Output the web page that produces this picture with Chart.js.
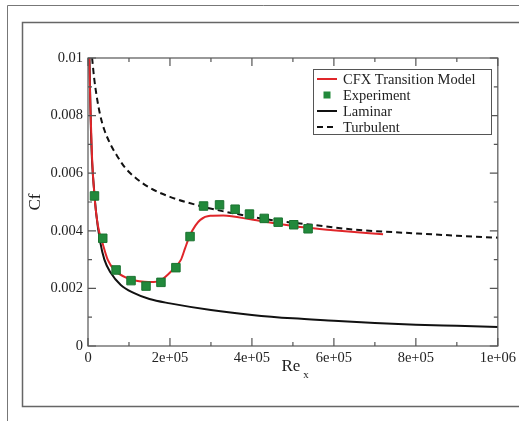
<!DOCTYPE html>
<html>
<head>
<meta charset="utf-8">
<script src="https://cdn.jsdelivr.net/npm/chart.js@4.4.1/dist/chart.umd.min.js"></script>
<style>
  html, body { margin: 0; padding: 0; background: #fff; }
  canvas { display: block; }
</style>
</head>
<body>
<canvas id="chart" width="519" height="421"></canvas>
<script>
// values
const cfxRe = [3000, 6000, 10000, 15800, 24000, 36000, 48000, 64500, 97000, 137500, 160000, 178000, 202000, 227000, 237000, 249000, 262000, 274000, 298000, 330000, 403000, 525000, 598000, 720000]
const cfxCf = [0.0100, 0.0082, 0.0065, 0.0052, 0.0042, 0.00355, 0.00300, 0.00264, 0.00235, 0.00223, 0.00222, 0.00229, 0.00258, 0.00300, 0.00340, 0.00385, 0.00418, 0.00438, 0.00452, 0.00453, 0.00438, 0.00412, 0.00402, 0.00388]

const expRe = [15800, 36000, 68500, 105000, 141600, 178000, 214500, 249000, 282000, 321000, 359000, 394000, 430000, 464000, 502000, 537000]
const expCf = [0.00521, 0.00374, 0.00264, 0.00227, 0.00208, 0.00221, 0.00272, 0.00380, 0.00486, 0.00490, 0.00475, 0.00458, 0.00443, 0.00430, 0.00421, 0.00407]

const lamRe = [3600, 5000, 7000, 10000, 15000, 20000, 30000, 40000, 55000, 80000, 110000, 150000, 200000, 300000, 400000, 500000, 600000, 700000, 800000, 900000, 1000000]
const lamCf = [0.0100, 0.0089, 0.0076, 0.0064, 0.0054, 0.0046, 0.0036, 0.0030, 0.00255, 0.00212, 0.00185, 0.00163, 0.00148, 0.00125, 0.00108, 0.00096, 0.00088, 0.00080, 0.00074, 0.00070, 0.00066]

const turbRe = [10000, 15000, 22000, 30000, 40000, 55000, 71000, 90000, 111000, 150000, 200000, 280000, 350000, 450000, 540000, 650000, 800000, 900000, 1000000]
const turbCf = [0.0100, 0.0093, 0.0086, 0.0080, 0.0075, 0.0070, 0.0066, 0.0062, 0.0059, 0.0055, 0.00518, 0.00484, 0.00462, 0.00437, 0.00422, 0.00404, 0.00391, 0.00383, 0.00376]

const xTickLabels = ['0', '2e+05', '4e+05', '6e+05', '8e+05', '1e+06']
const yTickLabels = ['0', '0.002', '0.004', '0.006', '0.008', '0.01']

const serif = "'Liberation Serif', 'Times New Roman', serif"

function toPoints(xs, ys) {
    return xs.map((x, i) => ({ x: x, y: ys[i] }))
}

// page frames behind the plot
const framePlugin = {
    id: 'frames',
    beforeDraw(chart) {
        const ctx = chart.ctx
        ctx.save()
        ctx.fillStyle = '#fff'
        ctx.fillRect(0, 0, chart.width, chart.height)
        ctx.strokeStyle = '#777'
        ctx.lineWidth = 1
        ctx.beginPath()
        ctx.moveTo(7.5, chart.height)
        ctx.lineTo(7.5, 5.5)
        ctx.lineTo(chart.width, 5.5)
        ctx.stroke()
        ctx.strokeStyle = '#666'
        ctx.lineWidth = 1.5
        ctx.beginPath()
        ctx.moveTo(chart.width + 2, 22.5)
        ctx.lineTo(22.5, 22.5)
        ctx.lineTo(22.5, 406.5)
        ctx.lineTo(chart.width + 2, 406.5)
        ctx.stroke()
        ctx.restore()
    }
}

// box round the plot, inward ticks on all four sides, axis titles
const axesPlugin = {
    id: 'axesBox',
    afterDatasetsDraw(chart) {
        const ctx = chart.ctx
        const a = chart.chartArea
        const xs = chart.scales.x
        const ys = chart.scales.y
        ctx.save()
        ctx.strokeStyle = '#555'
        ctx.lineWidth = 1.2
        ctx.strokeRect(a.left, a.top, a.right - a.left, a.bottom - a.top)
        ctx.beginPath()
        xs.ticks.forEach((t, i) => {
            const px = xs.getPixelForValue(t.value)
            const len = i % 2 === 0 ? 8 : 4
            ctx.moveTo(px, a.bottom); ctx.lineTo(px, a.bottom - len)
            ctx.moveTo(px, a.top); ctx.lineTo(px, a.top + len)
        })
        ys.ticks.forEach((t, i) => {
            const py = ys.getPixelForValue(t.value)
            const len = i % 2 === 0 ? 8 : 4
            ctx.moveTo(a.left, py); ctx.lineTo(a.left + len, py)
            ctx.moveTo(a.right, py); ctx.lineTo(a.right - len, py)
        })
        ctx.stroke()

        ctx.fillStyle = '#222'
        ctx.font = '17px ' + serif
        ctx.textAlign = 'center'
        ctx.textBaseline = 'middle'
        const midX = (a.left + a.right) / 2
        ctx.fillText('Re', midX - 2, 367)
        ctx.font = '11px ' + serif
        ctx.fillText('x', midX + 13, 375)

        ctx.font = '17px ' + serif
        ctx.translate(36, (a.top + a.bottom) / 2)
        ctx.rotate(-Math.PI / 2)
        ctx.fillText('Cf', 0, 0)
        ctx.restore()
    }
}

// legend box inside the plot, top right
const legendPlugin = {
    id: 'legendBox',
    afterDraw(chart) {
        const ctx = chart.ctx
        const boxX = 313.5, boxY = 69.5, boxW = 178, boxH = 65
        const rows = [79, 95, 111, 127]
        ctx.save()
        ctx.fillStyle = '#fff'
        ctx.fillRect(boxX, boxY, boxW, boxH)
        ctx.strokeStyle = '#555'
        ctx.lineWidth = 1
        ctx.strokeRect(boxX, boxY, boxW, boxH)
        ctx.font = '14.5px ' + serif
        ctx.textAlign = 'left'
        ctx.textBaseline = 'middle'
        chart.data.datasets.forEach((ds, i) => {
            const y = rows[i]
            if (ds.showLine) {
                ctx.strokeStyle = ds.borderColor
                ctx.lineWidth = ds.borderWidth
                ctx.setLineDash(ds.borderDash || [])
                ctx.beginPath()
                ctx.moveTo(317, y)
                ctx.lineTo(337, y)
                ctx.stroke()
                ctx.setLineDash([])
            } else {
                ctx.fillStyle = ds.backgroundColor
                ctx.fillRect(323.5, y - 3.5, 7, 7)
            }
            ctx.fillStyle = '#222'
            ctx.fillText(ds.label, 343, y + 1)
        })
        ctx.restore()
    }
}

const config = {
    type: 'scatter',
    data: {
        datasets: [
            {
                label: 'CFX Transition Model',
                data: toPoints(cfxRe, cfxCf),
                showLine: true,
                borderColor: '#e0262a',
                borderWidth: 2,
                pointRadius: 0,
                cubicInterpolationMode: 'monotone',
                order: 1
            },
            {
                label: 'Experiment',
                data: toPoints(expRe, expCf),
                showLine: false,
                pointStyle: 'rect',
                pointRadius: 6,
                backgroundColor: '#22893b',
                borderColor: '#1a7330',
                borderWidth: 1,
                order: 0
            },
            {
                label: 'Laminar',
                data: toPoints(lamRe, lamCf),
                showLine: true,
                borderColor: '#111',
                borderWidth: 2,
                pointRadius: 0,
                cubicInterpolationMode: 'monotone',
                order: 2
            },
            {
                label: 'Turbulent',
                data: toPoints(turbRe, turbCf),
                showLine: true,
                borderColor: '#111',
                borderWidth: 2,
                borderDash: [6, 4],
                pointRadius: 0,
                cubicInterpolationMode: 'monotone',
                order: 3
            }
        ]
    },
    options: {
        responsive: false,
        animation: false,
        layout: { padding: { left: 0, top: 58, right: 20, bottom: 0 } },
        plugins: {
            legend: { display: false },
            tooltip: { enabled: false }
        },
        scales: {
            x: {
                type: 'linear',
                min: 0,
                max: 1000000,
                grid: { display: false, drawTicks: false },
                border: { display: false },
                afterFit: (s) => { s.height = 75 },
                ticks: {
                    stepSize: 100000,
                    autoSkip: false,
                    maxRotation: 0,
                    padding: 3,
                    color: '#222',
                    font: { family: serif, size: 14.5 },
                    callback: (v, i) => (i % 2 === 0 ? xTickLabels[i / 2] : '')
                }
            },
            y: {
                type: 'linear',
                min: 0,
                max: 0.01,
                grid: { display: false, drawTicks: false },
                border: { display: false },
                afterFit: (s) => { s.width = 88 },
                ticks: {
                    stepSize: 0.001,
                    autoSkip: false,
                    padding: 5,
                    color: '#222',
                    font: { family: serif, size: 14.5 },
                    callback: (v, i) => (i % 2 === 0 ? yTickLabels[i / 2] : '')
                }
            }
        }
    },
    plugins: [framePlugin, axesPlugin, legendPlugin]
}

const ctx = document.getElementById('chart').getContext('2d')
const myChart = new Chart(ctx, config)
</script>
</body>
</html>
